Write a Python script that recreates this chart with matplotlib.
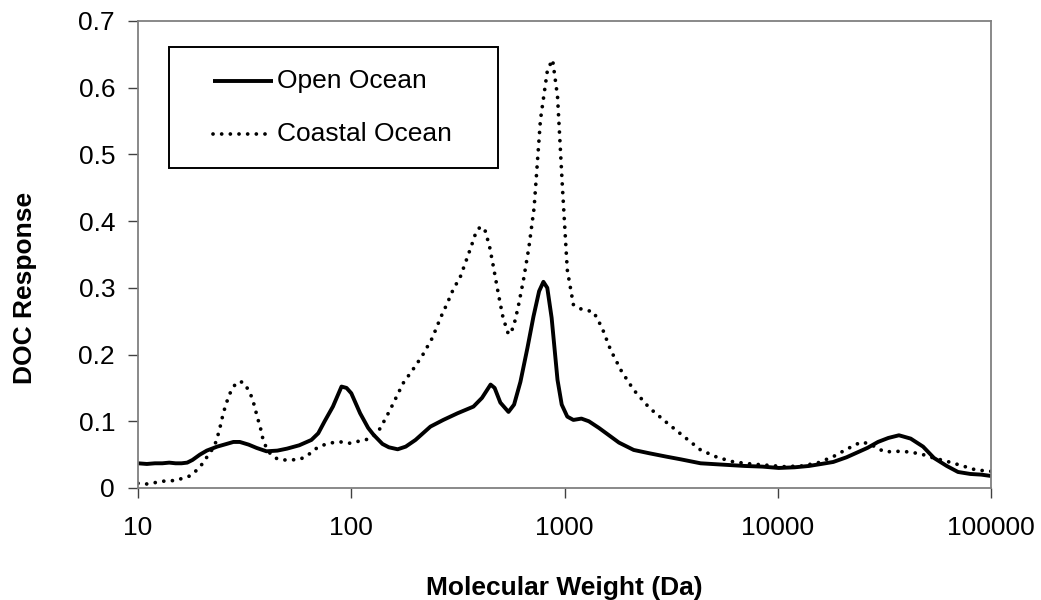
import numpy as np
import matplotlib
matplotlib.use('Agg')
import matplotlib.pyplot as plt
from matplotlib.lines import Line2D
from matplotlib.patches import Rectangle

plt.rcParams['font.family'] = ['Liberation Sans', 'DejaVu Sans']

# Open ocean DOC response vs molecular weight
open_mw = [10, 11, 12, 13, 14, 15, 16, 17, 18, 19.5, 21, 23.5, 26, 28, 30, 33, 36, 40, 45, 50,
           57, 65, 70, 75, 82, 90, 95, 100, 110, 120, 127, 140, 150, 165, 180, 200, 235, 270,
           315, 374, 410, 450, 470, 500, 546, 580, 621, 670, 715, 760, 796, 830, 870, 927,
           970, 1030, 1100, 1200, 1300, 1450, 1600, 1800, 2110, 2500, 3000, 3500, 4345, 5500,
           7000, 8500, 10100, 12000, 14000, 16000, 18200, 21000, 26300, 29500, 33000, 37000,
           42000, 48000, 54000, 62000, 70000, 80000, 90000, 100000]
open_doc = [0.037, 0.036, 0.037, 0.037, 0.038, 0.037, 0.037, 0.038, 0.042, 0.050, 0.056, 0.062,
            0.066, 0.069, 0.069, 0.065, 0.060, 0.055, 0.056, 0.059,
            0.064, 0.072, 0.082, 0.100, 0.122, 0.152, 0.150, 0.142, 0.112, 0.090, 0.080, 0.066,
            0.061, 0.058, 0.062, 0.072, 0.092, 0.102, 0.112, 0.122, 0.135, 0.155, 0.150, 0.128,
            0.114, 0.125, 0.159, 0.210, 0.257, 0.295, 0.309, 0.300, 0.255, 0.162,
            0.125, 0.107, 0.102, 0.104, 0.100, 0.090, 0.080, 0.068, 0.057, 0.052, 0.047, 0.043,
            0.037, 0.035, 0.033, 0.032, 0.030, 0.031, 0.033, 0.036, 0.039, 0.046, 0.060, 0.069,
            0.075, 0.079, 0.074, 0.062, 0.045, 0.033, 0.024, 0.021, 0.020, 0.018]

# Coastal ocean DOC response vs molecular weight
coast_mw = [10, 11, 12, 13, 14, 15, 16.3, 17.5, 18.9, 20, 21, 22, 23, 24, 25.1, 26, 27, 28.5, 30,
            31.5, 33.6, 35, 36.2, 37.5, 38.6, 40, 41.6, 44, 47, 52, 57.6, 63, 69, 75, 82, 90, 99,
            108, 119, 130, 137, 152, 175, 195, 215, 240, 262, 282, 300, 325, 345, 365, 385, 404,
            425, 445, 465, 490, 515, 546, 575, 605, 642, 680, 720, 771, 832, 879, 927, 977, 1030,
            1100, 1200, 1368, 1500, 1644, 1850, 2110, 2500, 3040, 3600, 4345, 5200, 6220, 7500,
            9000, 10700, 13000, 15500, 18200, 21000, 24600, 27000, 31700, 36000, 41800, 48000,
            53800, 62000, 72000, 85000, 100000]
coast_doc = [0.007, 0.006, 0.008, 0.010, 0.011, 0.011, 0.015, 0.018, 0.027, 0.036, 0.046, 0.055,
             0.066, 0.085, 0.112, 0.128, 0.142, 0.155, 0.160,
             0.157, 0.142, 0.125, 0.107, 0.090, 0.072, 0.060, 0.052, 0.045, 0.042, 0.042, 0.043,
             0.050, 0.060, 0.065, 0.068, 0.069, 0.067,
             0.070, 0.073, 0.080, 0.090, 0.117, 0.157, 0.178, 0.198, 0.225, 0.255, 0.277, 0.297,
             0.317, 0.340, 0.362, 0.384, 0.392,
             0.385, 0.362, 0.330, 0.290, 0.255, 0.230, 0.240, 0.270, 0.312, 0.360, 0.420, 0.552,
             0.627, 0.642, 0.587, 0.452, 0.327,
             0.275, 0.268, 0.264, 0.240, 0.207, 0.175, 0.147, 0.120, 0.097, 0.078, 0.057, 0.046,
             0.039, 0.036, 0.034, 0.032, 0.033, 0.038, 0.047, 0.058, 0.069, 0.066, 0.054, 0.055,
             0.054, 0.050, 0.045, 0.040, 0.034, 0.027, 0.025]

x_ticks = [10, 100, 1000, 10000, 100000]
x_labels = ['10', '100', '1000', '10000', '100000']
y_ticks = [0, 0.1, 0.2, 0.3, 0.4, 0.5, 0.6, 0.7]
y_labels = ['0', '0.1', '0.2', '0.3', '0.4', '0.5', '0.6', '0.7']

solid_style = dict(color='black', lw=2.8, solid_joinstyle='round', solid_capstyle='butt')
dot_style = dict(color='black', lw=2.7, linestyle=(0, (0.01, 2.3)), dash_capstyle='round')

fig = plt.figure(figsize=(10.41, 6.0), dpi=100)
ax = fig.add_axes([0.1326, 0.1867, 0.8194, 0.7783])

ax.plot(open_mw, open_doc, **solid_style)
ax.plot(coast_mw, coast_doc, **dot_style)

ax.set_xscale('log')
ax.set_xlim(10, 100000)
ax.set_ylim(0, 0.7)
ax.set_xticks(x_ticks)
ax.set_xticklabels(x_labels)
ax.minorticks_off()
ax.set_yticks(y_ticks)
ax.set_yticklabels(y_labels)

for s in ax.spines.values():
    s.set_color('#808080')
    s.set_linewidth(1.3)

ax.tick_params(axis='both', direction='out', length=7, width=1, color='#404040',
               labelsize=19)
ax.tick_params(axis='x', pad=13)
ax.tick_params(axis='y', pad=9.5)

ax.set_xlabel('Molecular Weight (Da)', fontsize=19, fontweight='bold', labelpad=26)
ax.set_ylabel('DOC Response', fontsize=19, fontweight='bold')
ax.yaxis.set_label_coords(-0.119, 0.428)

# legend box drawn by hand so the padding can differ per side
ax.add_patch(Rectangle((0.0363, 0.685), 0.386, 0.259, transform=ax.transAxes,
                       facecolor='white', edgecolor='black', lw=1.4, zorder=5))
rows = [('Open Ocean', solid_style, 0.872), ('Coastal Ocean', dot_style, 0.757)]
for name, style, yy in rows:
    ax.add_line(Line2D([0.0879, 0.1583], [yy, yy], transform=ax.transAxes, zorder=6, **style))
    ax.text(0.1630, yy, name, transform=ax.transAxes, fontsize=19, va='center',
            ha='left', zorder=6)

fig.savefig('out.png', dpi=100)
